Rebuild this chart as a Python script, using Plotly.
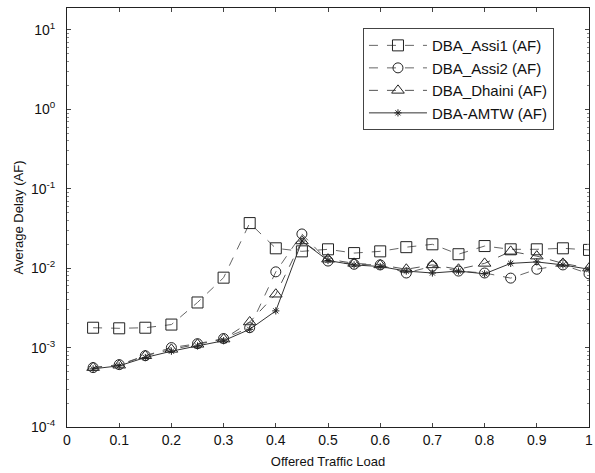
import plotly.graph_objects as go

load = [0.05, 0.1, 0.15, 0.2, 0.25, 0.3, 0.35, 0.4, 0.45, 0.5, 0.55, 0.6, 0.65, 0.7, 0.75, 0.8, 0.85, 0.9, 0.95, 1.0]
assi1 = [1.78e-3, 1.75e-3, 1.78e-3, 1.95e-3, 3.7e-3, 7.6e-3, 0.037, 0.0178, 0.0163, 0.0173, 0.0155, 0.0163, 0.0184, 0.020, 0.015, 0.019, 0.0173, 0.0173, 0.0178, 0.017]
assi2 = [5.6e-4, 6.1e-4, 7.9e-4, 1.0e-3, 1.12e-3, 1.3e-3, 1.78e-3, 9.0e-3, 0.027, 0.0123, 0.0112, 0.011, 8.7e-3, 0.0106, 9.2e-3, 8.7e-3, 7.5e-3, 9.7e-3, 0.011, 8.5e-3]
dhaini = [5.6e-4, 6.0e-4, 7.9e-4, 9.5e-4, 1.1e-3, 1.28e-3, 2.1e-3, 4.7e-3, 0.022, 0.013, 0.0115, 0.011, 9.7e-3, 0.011, 9.7e-3, 0.0115, 0.0163, 0.0142, 0.0115, 0.010]
amtw = [5.4e-4, 5.9e-4, 7.5e-4, 9.0e-4, 1.05e-3, 1.22e-3, 1.7e-3, 2.9e-3, 0.022, 0.0125, 0.011, 0.0105, 9.2e-3, 8.7e-3, 9.2e-3, 8.5e-3, 0.0115, 0.012, 0.011, 9.7e-3]

names = ["DBA_Assi1 (AF)", "DBA_Assi2 (AF)", "DBA_Dhaini (AF)", "DBA-AMTW (AF)"]
xticks = [0, 0.1, 0.2, 0.3, 0.4, 0.5, 0.6, 0.7, 0.8, 0.9, 1]
xticklabels = ["0", "0.1", "0.2", "0.3", "0.4", "0.5", "0.6", "0.7", "0.8", "0.9", "1"]
yticks = [1e-4, 1e-3, 1e-2, 1e-1, 1e0, 1e1]
yticklabels = ["10<sup>-4</sup>", "10<sup>-3</sup>", "10<sup>-2</sup>", "10<sup>-1</sup>", "10<sup>0</sup>", "10<sup>1</sup>"]

series = [assi1, assi2, dhaini, amtw]
symbols = ["square-open", "circle-open", "triangle-up-open", "asterisk-open"]
sizes = [11, 10, 11, 6]
dashes = ["dash", "dash", "dash", "solid"]
lcolors = ["#666666", "#666666", "#555555", "#333333"]

FONT = "Liberation Sans, Arial"

fig = go.Figure()
for ys, nm, sym, sz, ds, lc in zip(series, names, symbols, sizes, dashes, lcolors):
    fig.add_trace(go.Scatter(
        x=load, y=ys, name=nm, mode="lines+markers",
        line=dict(color=lc, width=1, dash=ds),
        marker=dict(symbol=sym, size=sz, color="#222222", line=dict(width=1, color="#222222")),
    ))

axis_common = dict(showline=True, linecolor="#222222", linewidth=1, mirror="ticks",
                   ticks="inside", ticklen=4, tickcolor="#444444", showgrid=False, zeroline=False,
                   ticklabeloverflow="allow",
                   tickfont=dict(family=FONT, size=14, color="#111111"))

fig.update_xaxes(range=[0, 1], tickvals=xticks, ticktext=xticklabels,
                 title=dict(text="Offered Traffic Load", font=dict(family=FONT, size=13, color="#111111"), standoff=10),
                 **axis_common)
fig.update_yaxes(type="log", range=[-4, 1.277], tickvals=yticks, ticktext=yticklabels,
                 ticklabelstandoff=8,
                 minor=dict(ticks="inside", ticklen=2, tickcolor="#888888", dtick="D1"),
                 title=dict(text="Average Delay (AF)", font=dict(family=FONT, size=13, color="#111111"), standoff=4),
                 **axis_common)

fig.update_layout(
    width=595, height=473,
    margin=dict(l=67, r=2, t=8, b=46),
    paper_bgcolor="white", plot_bgcolor="white",
    legend=dict(x=0.567, y=0.952, xanchor="left", yanchor="top",
                bordercolor="#444444", borderwidth=1, bgcolor="white",
                font=dict(family=FONT, size=15, color="#111111"),
                tracegroupgap=0, itemwidth=58),
    showlegend=True,
)

fig.write_html("out.html")
